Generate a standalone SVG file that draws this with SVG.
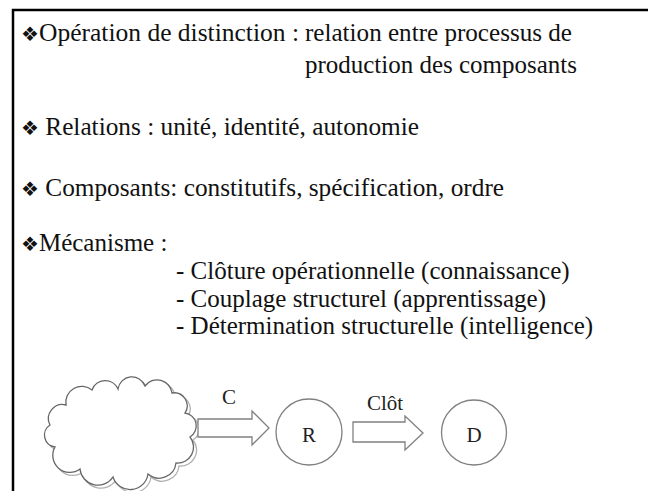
<svg xmlns="http://www.w3.org/2000/svg" width="648" height="491" viewBox="0 0 648 491">
<style>
.t{font-family:"Liberation Serif","Times New Roman","DejaVu Serif",serif;font-size:25px;fill:#111}
.s{font-family:"Liberation Serif","Times New Roman","DejaVu Serif",serif;font-size:21px;fill:#222}
.b{font-family:"DejaVu Sans",sans-serif;font-size:20px;fill:#111}
.sh{fill:#fff;stroke:#808080;stroke-width:1.3}
.cl{fill:#fff;stroke:#666;stroke-width:1.3}
.cl2{fill:none;stroke:#b0b0b0;stroke-width:1.3}
</style>
<rect x="0" y="0" width="648" height="491" fill="#fff"/>
<path d="M13,491 V10 H648" fill="none" stroke="#000" stroke-width="2.5"/>
<g id="texts">
<text class="t" x="21" y="41"><tspan class="b">❖</tspan><tspan x="39" textLength="260" lengthAdjust="spacingAndGlyphs">Opération de distinction :</tspan></text>
<text class="t" x="305" y="41" textLength="267" lengthAdjust="spacingAndGlyphs">relation entre processus de</text>
<text class="t" x="305" y="73" textLength="272" lengthAdjust="spacingAndGlyphs">production des composants</text>
<text class="t" x="21" y="135" style="font-size:25.3px"><tspan class="b">❖</tspan> Relations : unité, identité, autonomie</text>
<text class="t" x="21" y="196" style="font-size:25.3px"><tspan class="b">❖</tspan> Composants: constitutifs, spécification, ordre</text>
<text class="t" x="21" y="251"><tspan class="b">❖</tspan>Mécanisme :</text>
<text class="t" x="176" y="279">- Clôture opérationnelle (connaissance)</text>
<text class="t" x="176" y="307">- Couplage structurel (apprentissage)</text>
<text class="t" x="176" y="334">- Détermination structurelle (intelligence)</text>
</g>
<g id="cloud">
<path class="cl2" transform="translate(3,3)" d="M55,447 A12,12 0 0 1 50,425 A14,14 0 0 1 66,405 A16,16 0 0 1 92,390 A14,14 0 0 1 118,389 A14,14 0 0 1 145,386 A15,15 0 0 1 172,393 A13,13 0 0 1 185,413 A13,13 0 0 1 190,437 A16,16 0 0 1 176,463 A17,17 0 0 1 148,474 A18,18 0 0 1 113,477 A18,18 0 0 1 80,469 A17,17 0 0 1 55,447 Z"/>
<path class="cl" d="M55,447 A12,12 0 0 1 50,425 A14,14 0 0 1 66,405 A16,16 0 0 1 92,390 A14,14 0 0 1 118,389 A14,14 0 0 1 145,386 A15,15 0 0 1 172,393 A13,13 0 0 1 185,413 A13,13 0 0 1 190,437 A16,16 0 0 1 176,463 A17,17 0 0 1 148,474 A18,18 0 0 1 113,477 A18,18 0 0 1 80,469 A17,17 0 0 1 55,447 Z"/>
</g>
<g id="node-R">
<circle class="sh" cx="309" cy="432" r="33"/>
<text class="s" x="309" y="442" text-anchor="middle">R</text>
</g>
<g id="node-D">
<circle class="sh" cx="474" cy="432.5" r="32.5"/>
<text class="s" x="474" y="442" text-anchor="middle">D</text>
</g>
<g id="connectors">
<path class="sh" d="M198,419 H252 V411 L269,428 L252,445 V437 H198 Z"/>
<text class="s" x="229" y="404" text-anchor="middle">C</text>
<path class="sh" d="M353,422 H405 V416 L423,433 L405,450 V442 H353 Z"/>
<text class="s" x="385" y="410" text-anchor="middle">Clôt</text>
</g>
</svg>
